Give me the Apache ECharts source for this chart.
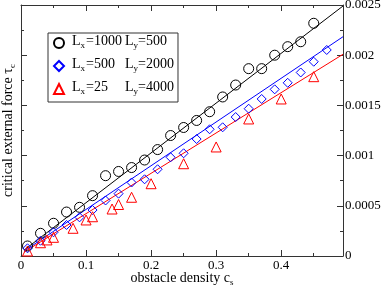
<!DOCTYPE html>
<html>
<head>
<meta charset="utf-8">
<script src="https://cdn.jsdelivr.net/npm/echarts@6/dist/echarts.min.js"></script>
<style>html,body{margin:0;padding:0;background:#fff;}#c{width:382px;height:289px;}</style>
</head>
<body>
<div id="c"></div>
<script>
// ---- data ----
var blackX = [0.01,0.03,0.05,0.07,0.09,0.11,0.13,0.15,0.17,0.19,0.21,0.23,0.25,0.27,0.29,0.31,0.33,0.35,0.37,0.39,0.41,0.43,0.45];
var blackY = [0.0001,0.000226,0.000326,0.000438,0.000485,0.000601,0.0008,0.000842,0.000881,0.000956,0.00106,0.0012,0.00128,0.00135,0.001437,0.001584,0.001703,0.001866,0.001866,0.002,0.002085,0.002134,0.002318];
var blueX = [0.01,0.03,0.05,0.07,0.09,0.11,0.13,0.15,0.17,0.19,0.21,0.23,0.25,0.27,0.29,0.31,0.33,0.35,0.37,0.39,0.41,0.43,0.45,0.47];
var blueY = [0.0000767,0.000152,0.000236,0.000309,0.000385,0.000458,0.000553,0.000621,0.000732,0.000764,0.000864,0.000983,0.001023,0.001165,0.001262,0.001282,0.001384,0.001467,0.001564,0.00166,0.001725,0.001828,0.001935,0.002052];
var redX = [0.01,0.03,0.04,0.05,0.08,0.10,0.11,0.14,0.15,0.17,0.20,0.25,0.30,0.35,0.40,0.45];
var redY = [0.00005,0.000132,0.00016,0.000186,0.000276,0.000359,0.000391,0.000468,0.000513,0.000585,0.00072,0.000919,0.001086,0.001365,0.001564,0.001786];
// fit lines (endpoints)
var blackLineX = [0.005,0.495], blackLineY = [0.00006,0.00249];
var blueLineX = [0.005,0.495],  blueLineY = [0.00005,0.002184];
var redLineX = [0.005,0.495],   redLineY = [0.00004,0.002009];
// legend / labels
var seriesNames = ['black','blue','red'];
var seriesLx = ['1000','500','25'];
var seriesLy = ['500','2000','4000'];
var xTickLabels = ['0','0.1','0.2','0.3','0.4'];
var yTickLabels = ['0','0.0005','0.001','0.0015','0.002','0.0025'];
var xTitle = 'obstacle density c', xTitleSub = 's';
var yTitle = 'critical external force \u03c4', yTitleSub = 'c';

function pairs(xs, ys){ return xs.map(function(x,i){ return [x, ys[i]]; }); }

var SERIF = 'Liberation Serif';
var rich = {
  n: {fontFamily: SERIF, fontSize: 14, lineHeight: 14, padding: [0,0,4,0], color: '#000', verticalAlign: 'middle'},
  s: {fontFamily: SERIF, fontSize: 9, lineHeight: 9, padding: [5,0,0,0], color: '#000', verticalAlign: 'middle'},
  n0: {fontFamily: SERIF, fontSize: 14, lineHeight: 14, padding: [0,0,4,3], color: '#000', verticalAlign: 'middle'},
  a: {fontFamily: SERIF, fontSize: 14, lineHeight: 14, padding: [0,0,4,1], width: 39, color: '#000', verticalAlign: 'middle'},
  b: {fontFamily: SERIF, fontSize: 14, lineHeight: 14, padding: [0,0,4,0], width: 30, color: '#000', verticalAlign: 'middle'}
};

var axisCommon = {
  min: 0,
  axisLine: {show: true, onZero: false, lineStyle: {color: '#333', width: 1}},
  axisTick: {show: true, inside: true, length: 6, lineStyle: {color: '#333'}},
  minorTick: {show: true, splitNumber: 2, length: 3, lineStyle: {color: '#333'}},
  splitLine: {show: false},
  minorSplitLine: {show: false}
};

function xa(pos, showLabel){
  return Object.assign({}, axisCommon, {
    type: 'value', position: pos, max: 0.495, interval: 0.1,
    axisLabel: {show: showLabel, margin: 3, fontFamily: SERIF, fontSize: 13, color: '#000',
      formatter: function(v){ return xTickLabels[Math.round(v/0.1)]; }},
    name: showLabel ? '{n|' + xTitle + '}{s|' + xTitleSub + '}' : '',
    nameLocation: 'middle', nameGap: 17, nameMoveOverlap: false,
    nameTextStyle: {rich: rich}
  });
}
function ya(pos, showLabel, withName){
  return Object.assign({}, axisCommon, {
    type: 'value', position: pos, max: 0.0025, interval: 0.0005,
    axisLabel: {show: showLabel, margin: 2, fontFamily: SERIF, fontSize: 13, color: '#000',
      formatter: function(v){ return yTickLabels[Math.round(v/0.0005)]; }},
    name: withName ? '{n|' + yTitle + '}{s|' + yTitleSub + '}' : '',
    nameLocation: 'middle', nameGap: 4, nameRotate: 90, nameMoveOverlap: false,
    nameTextStyle: {rich: rich}
  });
}

var colors = ['#000000','#0000ff','#ff0000'];
var symbols = ['circle','diamond','triangle'];
var sizes = [10,9,10];
var ptsX = [blackX, blueX, redX], ptsY = [blackY, blueY, redY];
var linX = [blackLineX, blueLineX, redLineX], linY = [blackLineY, blueLineY, redLineY];

var series = [];
for (var i = 0; i < 3; i++) {
  series.push({
    name: seriesNames[i] + 'fit', type: 'line', xAxisIndex: 0, yAxisIndex: 0,
    data: pairs(linX[i], linY[i]), showSymbol: false, symbol: 'none',
    lineStyle: {color: colors[i], width: 1}, silent: true, z: 2
  });
}
for (var j = 0; j < 3; j++) {
  series.push({
    name: seriesNames[j], type: 'scatter', xAxisIndex: 0, yAxisIndex: 0,
    data: pairs(ptsX[j], ptsY[j]), symbol: symbols[j], symbolSize: sizes[j],
    itemStyle: {color: 'rgba(0,0,0,0)', borderColor: colors[j], borderWidth: 1, opacity: 1}, z: 3
  });
}

var chart = echarts.init(document.getElementById('c'), null, {renderer: 'canvas'});
chart.setOption({
  animation: false,
  backgroundColor: '#fff',
  grid: {left: 21, right: 39, top: 5, bottom: 33, containLabel: false, outerBoundsMode: 'none'},
  xAxis: [xa('bottom', true), xa('top', false)],
  yAxis: [ya('right', true, false), ya('left', false, true)],
  legend: {
    data: seriesNames, orient: 'vertical', left: 48, top: 33,
    padding: [1, 4, 4, 5], itemGap: 5, itemWidth: 10, itemHeight: 10,
    backgroundColor: '#fff', borderColor: '#333', borderWidth: 1, borderRadius: 0,
    textStyle: {rich: rich},
    formatter: function(name){
      var k = seriesNames.indexOf(name);
      return '{n0|L}{s|x}{a|=' + seriesLx[k] + '}{n|L}{s|y}{b|=' + seriesLy[k] + '}';
    }
  },
  series: series
});
</script>
</body>
</html>
